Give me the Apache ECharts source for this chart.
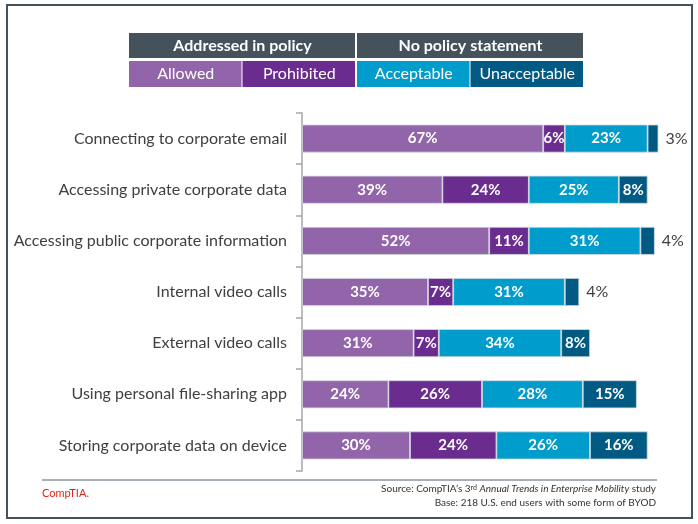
<!DOCTYPE html>
<html lang="en">
<head>
    <meta charset="UTF-8">
    <title>BYOD policy</title>
    <script src="https://cdn.jsdelivr.net/npm/echarts@6/dist/echarts.min.js"></script>
    <style>
        html, body { margin: 0; padding: 0; background: #fff; }
        #main { width: 698px; height: 524px; }
    </style>
</head>
<body>
<div id="main"></div>
<script type="text/javascript">
    // data
    var categories = [
        'Connecting to corporate email',
        'Accessing private corporate data',
        'Accessing public corporate information',
        'Internal video calls',
        'External video calls',
        'Using personal file-sharing app',
        'Storing corporate data on device'
    ];
    var allowed      = [67, 39, 52, 35, 31, 24, 30];
    var prohibited   = [6, 24, 11, 7, 7, 26, 24];
    var acceptable   = [23, 25, 31, 31, 34, 28, 26];
    var unacceptable = [3, 8, 4, 4, 8, 15, 16];

    var seriesNames = ['Allowed', 'Prohibited', 'Acceptable', 'Unacceptable'];
    var groupNames = ['Addressed in policy', 'No policy statement'];
    var colors = ['#9264a9', '#6b2c8f', '#009ccb', '#005a83'];
    var font = 'Lato, "Open Sans", sans-serif';

    var myChart = echarts.init(document.getElementById('main'));

    // label inside the segment; small ones go outside, to the right
    function barData(values) {
        return values.map(function (v) {
            if (v < 5) {
                return {
                    value: v,
                    label: {position: 'right', distance: 7, color: '#404040', fontWeight: 'normal', fontSize: 16}
                };
            }
            return v;
        });
    }

    var series = [allowed, prohibited, acceptable, unacceptable].map(function (vals, i) {
        return {
            name: seriesNames[i],
            type: 'bar',
            stack: 'all',
            barWidth: 28,
            data: barData(vals),
            itemStyle: {color: colors[i], borderColor: '#d3d9de', borderWidth: 0.8},
            label: {
                show: true,
                position: 'inside',
                formatter: '{c}%',
                color: '#fff',
                fontFamily: font,
                fontWeight: 'bold',
                fontSize: 15
            }
        };
    });

    // legend table drawn on top
    var graphics = [];
    var x0 = 129, cellW = 113.5, gap = 1;
    groupNames.forEach(function (g, i) {
        var gx = x0 + i * (2 * cellW + gap);
        graphics.push({
            type: 'rect',
            shape: {x: gx, y: 33, width: 2 * cellW - gap, height: 25},
            style: {fill: '#45525c'}
        });
        graphics.push({
            type: 'text',
            style: {
                x: gx + cellW, y: 46, text: g, align: 'center', verticalAlign: 'middle',
                fill: '#fff', font: 'bold 16px ' + font
            }
        });
    });
    seriesNames.forEach(function (n, i) {
        var cx = x0 + i * cellW + (i >= 2 ? gap : 0);
        graphics.push({
            type: 'rect',
            shape: {x: cx, y: 61, width: cellW - gap, height: 26},
            style: {fill: colors[i]}
        });
        graphics.push({
            type: 'text',
            style: {
                x: cx + cellW / 2, y: 74, text: n, align: 'center', verticalAlign: 'middle',
                fill: '#fff', font: '16px ' + font
            }
        });
    });

    // frame, footer rule, logo and source
    graphics.push({
        type: 'rect',
        shape: {x: 7, y: 5, width: 685, height: 513},
        style: {fill: 'none', stroke: '#45525c', lineWidth: 2}
    });
    graphics.push({
        type: 'line',
        shape: {x1: 42, y1: 480, x2: 657, y2: 480},
        style: {stroke: '#8a949c', lineWidth: 1.5}
    });
    graphics.push({
        type: 'text',
        style: {x: 42, y: 493, text: 'CompTIA.', verticalAlign: 'middle', fill: '#e2231a', font: '11px ' + font}
    });
    graphics.push({
        type: 'text',
        style: {
            x: 656, y: 489, align: 'right', verticalAlign: 'middle',
            text: 'Source: CompTIA\u2019s 3{sup|rd} {i|Annual Trends in Enterprise Mobility} study',
            fill: '#333', font: '10px ' + font,
            rich: {
                sup: {fontSize: 7, verticalAlign: 'top', fill: '#333', fontFamily: font},
                i: {fontStyle: 'italic', fontSize: 10, fill: '#333', fontFamily: font}
            }
        }
    });
    graphics.push({
        type: 'text',
        style: {
            x: 656, y: 503, align: 'right', verticalAlign: 'middle',
            text: 'Base: 218 U.S. end users with some form of BYOD',
            fill: '#333', font: '10px ' + font
        }
    });

    var option = {
        animation: false,
        grid: {left: 302, top: 113, width: 360, height: 358, containLabel: false},
        xAxis: {
            type: 'value',
            min: 0,
            max: 100,
            show: false
        },
        yAxis: {
            type: 'category',
            data: categories,
            inverse: true,
            axisLine: {show: true, lineStyle: {color: '#a6a6a6', width: 1.5}},
            axisTick: {show: true, length: 6, lineStyle: {color: '#a6a6a6', width: 1.5}},
            axisLabel: {color: '#404040', fontFamily: font, fontSize: 16, margin: 15},
            splitLine: {show: false}
        },
        series: series,
        graphic: graphics
    };

    myChart.setOption(option);
</script>
</body>
</html>
